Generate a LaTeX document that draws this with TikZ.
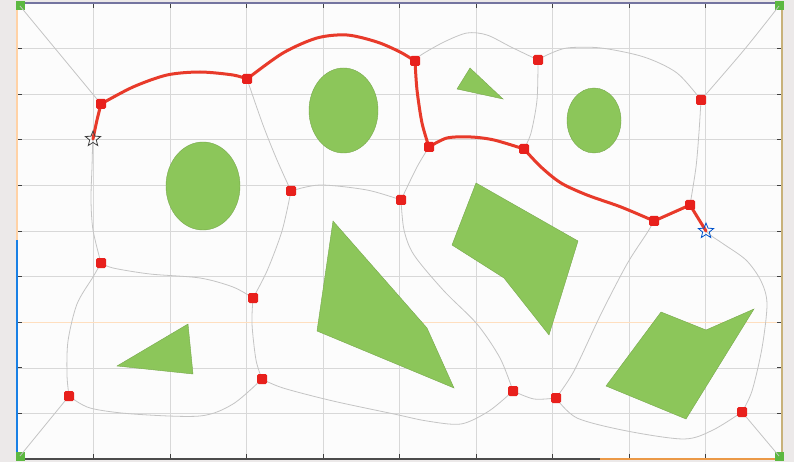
\documentclass[tikz,border=0pt]{standalone}
\usetikzlibrary{shapes.geometric}
\definecolor{bgout}{HTML}{ECE9E9}
\definecolor{bgin}{HTML}{FCFCFC}
\definecolor{gridc}{HTML}{D8D8D8}
\definecolor{roadc}{HTML}{C4C4C4}
\definecolor{pathc}{HTML}{E83A2A}
\definecolor{nodec}{HTML}{E8201C}
\definecolor{obsc}{HTML}{8CC65A}
\definecolor{cornc}{HTML}{5CB840}
\definecolor{topfr}{HTML}{7474A0}
\definecolor{rightfr}{HTML}{C8B27A}
\tikzset{
  road/.style={draw=roadc, line width=0.8pt},
  redpath/.style={draw=pathc, line width=3pt, line cap=round, line join=round},
  rnode/.style={rectangle, fill=nodec, minimum size=10pt, inner sep=0pt, rounded corners=1.5pt},
  cnode/.style={rectangle, fill=cornc, minimum size=9pt, inner sep=0pt},
  obstacle/.style={fill=obsc, draw=obsc!85!black, line width=0.4pt},
  startstar/.style={star, star points=5, star point ratio=2.3, minimum size=16pt, inner sep=0pt, draw=black!75, line width=0.8pt},
  goalstar/.style={star, star points=5, star point ratio=2.3, minimum size=16pt, inner sep=0pt, draw=blue!60!cyan!80!black, line width=0.8pt},
  tick/.style={draw=black!75, line width=1pt}
}
\begin{document}
\begin{tikzpicture}[x=1pt,y=-1pt]
\useasboundingbox (0,0) rectangle (794,462);
\fill[bgout] (0,0) rectangle (794,462);
\fill[bgin] (17,3) rectangle (782,459);
% grid
\foreach \i in {1,...,9} {
  \draw[gridc, line width=0.6pt] ({17+76.5*\i},3) -- ({17+76.5*\i},459);
  \draw[gridc, line width=0.6pt] (17,{3+45.6*\i}) -- (782,{3+45.6*\i});
}
\draw[orange!25, line width=0.6pt] (17,322.2) -- (782,322.2);
% ticks
\foreach \i in {1,...,9} {
  \draw[tick] ({17+76.5*\i},3) -- ({17+76.5*\i},8);
  \draw[tick] ({17+76.5*\i},459) -- ({17+76.5*\i},454);
  \draw[tick] (17,{3+45.6*\i}) -- (22,{3+45.6*\i});
  \draw[tick] (782,{3+45.6*\i}) -- (777,{3+45.6*\i});
}
% frame
\draw[draw=topfr, line width=1.2pt] (17,3) -- (782,3);
\draw[draw=black!70, line width=1.2pt] (17,459) -- (600,459);
\draw[draw=orange!60!brown!80, line width=1.2pt] (600,459) -- (782,459);
\draw[draw=orange!35, line width=1.2pt] (17,3) -- (17,240);
\draw[draw=blue!50!cyan!80!gray, line width=1.2pt] (17,240) -- (17,459);
\draw[draw=rightfr, line width=1.2pt] (782,3) -- (782,459);

% obstacles
\fill[obstacle] (203,186) ellipse [x radius=37, y radius=44];
\fill[obstacle] (343.5,110.5) ellipse [x radius=34.5, y radius=42.5];
\fill[obstacle] (594,120.5) ellipse [x radius=27, y radius=32.5];
\filldraw[obstacle] (470,68) -- (503,99) -- (457,89) -- cycle;
\filldraw[obstacle] (476,183) -- (578,241) -- (549,335) -- (504,278) -- (452,245) -- cycle;
\filldraw[obstacle] (333,221) -- (427,328) -- (454,388) -- (317,331) -- cycle;
\filldraw[obstacle] (117,366) -- (188,324) -- (193,374) -- cycle;
\filldraw[obstacle] (606,386) -- (661,312) -- (706,330) -- (754,309) -- (686,419) -- cycle;

% nodes
\node[cnode] (c1) at (20,6) {};
\node[cnode] (c2) at (779,6) {};
\node[cnode] (c3) at (20,456) {};
\node[cnode] (c4) at (779,456) {};
\coordinate (s) at (93,139);
\coordinate (g) at (706,231);
\coordinate (n1) at (101,104);
\coordinate (n2) at (247,79);
\coordinate (n3) at (415,61);
\coordinate (n4) at (538,60);
\coordinate (n5) at (701,100);
\coordinate (n6) at (429,147);
\coordinate (n7) at (524,149);
\coordinate (n8) at (291,191);
\coordinate (n9) at (401,200);
\coordinate (n10) at (101,263);
\coordinate (n11) at (253,298);
\coordinate (n12) at (654,221);
\coordinate (n13) at (690,205);
\coordinate (n14) at (69,396);
\coordinate (n15) at (262,379);
\coordinate (n16) at (513,391);
\coordinate (n17) at (556,398);
\coordinate (n18) at (742,412);

% roadmap
\draw[road] (c1.center) -- (n1);
\draw[road] plot[smooth] coordinates {(n1) (96,122) (s) (92,167) (91,200) (93,230) (n10)};
\draw[road] plot[smooth] coordinates {(n10) (113,268) (150,274) (200,278) (233,287) (n11)};
\draw[road] plot[smooth] coordinates {(n10) (93,277) (77,304) (68,341) (67,375) (n14)};
\draw[road] (n14) -- (c3.center);
\draw[road] plot[smooth] coordinates {(n14) (90,408) (133,414) (200,416) (233,404) (n15)};
\draw[road] plot[smooth] coordinates {(n11) (252,324) (256,360) (n15)};
\draw[road] plot[smooth] coordinates {(n11) (267,271) (282,231) (n8)};
\draw[road] plot[smooth] coordinates {(n2) (263,125) (277,160) (n8)};
\draw[road] plot[smooth] coordinates {(n8) (320,185) (367,190) (n9)};
\draw[road] plot[smooth] coordinates {(n9) (417,167) (n6)};
\draw[road] plot[smooth] coordinates {(n9) (404,230) (414,255) (444,291) (477,324) (500,358) (n16)};
\draw[road] plot[smooth] coordinates {(n15) (283,388) (333,401) (394,414) (427,421) (461,424) (489,411) (n16)};
\draw[road] plot[smooth] coordinates {(n16) (534,399) (n17)};
\draw[road] plot[smooth] coordinates {(n17) (574,371) (601,314) (627,264) (647,233) (n12)};
\draw[road] plot[smooth] coordinates {(n17) (577,418) (627,431) (684,439) (713,430) (n18)};
\draw[road] plot[smooth] coordinates {(n13) (g) (722,243) (746,260) (761,281) (767,304) (762,348) (752,391) (n18)};
\draw[road] (n18) -- (c4.center);
\draw[road] plot[smooth] coordinates {(n13) (696,167) (699,132) (n5)};
\draw[road] plot[smooth] coordinates {(n5) (744,50) (c2.center)};
\draw[road] plot[smooth] coordinates {(n5) (677,73) (644,57) (601,48) (567,48) (547,55) (n4)};
\draw[road] plot[smooth] coordinates {(n4) (511,47) (487,35) (467,33) (444,42) (421,55) (n3)};
\draw[road] plot[smooth] coordinates {(n4) (537,100) (531,133) (n7)};

% red path
\draw[redpath] plot[smooth] coordinates {(s) (97,120) (n1)};
\draw[redpath] plot[smooth] coordinates {(n1) (133,87) (167,75) (200,72) (233,75) (n2)};
\draw[redpath] plot[smooth] coordinates {(n2) (283,53) (317,38) (347,35) (377,42) (400,52) (n3)};
\draw[redpath] plot[smooth] coordinates {(n3) (417,90) (422,123) (n6)};
\draw[redpath] plot[smooth] coordinates {(n6) (447,138) (471,137) (494,140) (n7)};
\draw[redpath] plot[smooth] coordinates {(n7) (541,167) (561,183) (587,195) (621,207) (n12)};
\draw[redpath] (n12) -- (n13);
\draw[redpath] (n13) -- (g);

% red nodes
\foreach \n in {n1,n2,n3,n4,n5,n6,n7,n8,n9,n10,n11,n12,n13,n14,n15,n16,n17,n18}
  \node[rnode] at (\n) {};
% stars
\node[startstar] (sstar) at (s) {};
\node[goalstar] (gstar) at (g) {};
\end{tikzpicture}
\end{document}
